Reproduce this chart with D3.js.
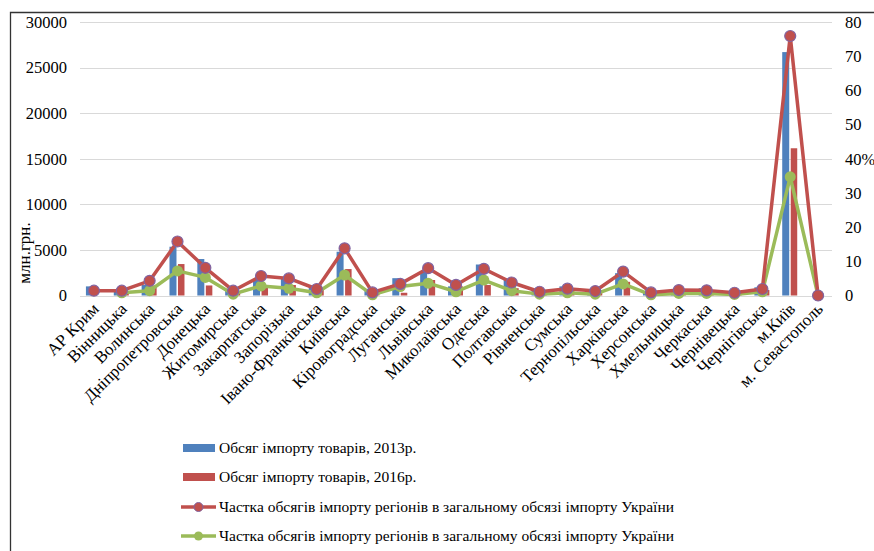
<!DOCTYPE html>
<html>
<head>
<meta charset="utf-8">
<script src="https://cdn.jsdelivr.net/npm/d3@7"></script>
<style>
  body { margin: 0; background: #fff; }
  svg { font-family: "Liberation Serif", "Times New Roman", serif; }
</style>
</head>
<body>
<svg width="874" height="551"></svg>
<script>
  const regions = ['АР Крим', 'Вінницька', 'Волинська', 'Дніпропетровська', 'Донецька', 'Житомирська',
    'Закарпатська', 'Запорізька', 'Івано-Франківська', 'Київська', 'Кіровоградська', 'Луганська',
    'Львівська', 'Миколаївська', 'Одеська', 'Полтавська', 'Рівненська', 'Сумська', 'Тернопільська',
    'Харківська', 'Херсонська', 'Хмельницька', 'Черкаська', 'Чернівецька', 'Чернігівська',
    'м.Київ', 'м. Севастополь'];

  const import2013 = [1000, 700, 1150, 5350, 4000, 750, 1700, 1900, 900, 4800, 500, 1900,
    2600, 1000, 3400, 1700, 700, 1000, 500, 2450, 500, 700, 800, 300, 900, 26700, null];
  const import2016 = [null, 500, 1100, 3450, 1100, 450, 1050, 1150, 700, 2900, 300, 300,
    1700, 1000, 1150, 800, 400, 600, 300, 1500, 300, 400, 500, 150, 600, 16150, null];
  const shareRed = [1.4, 1.4, 4.3, 15.8, 8.1, 1.4, 5.7, 5.0, 1.9, 13.8, 0.9, 3.4,
    8.0, 3.1, 7.8, 3.8, 1.1, 2.0, 1.3, 7.0, 0.9, 1.6, 1.5, 0.8, 1.9, 75.9, 0];
  const shareGreen = [null, 0.8, 1.4, 7.2, 5.3, 0.4, 2.8, 2.1, 0.8, 6.0, 0.2, 2.6,
    3.6, 1.1, 4.5, 1.4, 0.4, 0.8, 0.4, 3.4, 0.2, 0.6, 0.6, 0.3, 1.1, 34.7, 0];

  const leftTicks = [0, 5000, 10000, 15000, 20000, 25000, 30000];
  const rightTicks = [0, 10, 20, 30, 40, 50, 60, 70, 80];

  const legendLabels = ['Обсяг імпорту товарів, 2013р.', 'Обсяг імпорту товарів, 2016р.',
    'Частка обсягів імпорту регіонів в загальному обсязі імпорту України',
    'Частка обсягів імпорту регіонів в загальному обсязі імпорту України'];

  const blue = '#4f81bd', red = '#c0504d', green = '#9bbb59';

  const svg = d3.select('svg');

  // frame
  svg.append('path')
    .attr('d', 'M10.5,551 L10.5,12.5 L874,12.5')
    .attr('fill', 'none')
    .attr('stroke', '#333')
    .attr('stroke-width', 1.3);

  const x = d3.scaleBand().domain(regions).range([80, 832]);
  const yL = d3.scaleLinear().domain([0, 30000]).range([295.5, 22]);
  const yR = d3.scaleLinear().domain([0, 80]).range([295.5, 22]);
  const cx = d => x(d) + x.bandwidth() / 2;

  // gridlines
  svg.append('g').selectAll('line')
    .data(leftTicks)
    .join('line')
      .attr('x1', 80).attr('x2', 832)
      .attr('y1', d => Math.round(yL(d)) + 0.5)
      .attr('y2', d => Math.round(yL(d)) + 0.5)
      .attr('stroke', '#d9d9d9')
      .attr('stroke-width', 1.2);

  // left axis labels
  svg.append('g').selectAll('text')
    .data(leftTicks)
    .join('text')
      .attr('x', 67)
      .attr('y', d => yL(d))
      .attr('dy', '0.35em')
      .attr('text-anchor', 'end')
      .attr('font-size', '16.5px')
      .text(d => d);

  svg.append('text')
    .attr('transform', 'translate(30,253) rotate(-90)')
    .attr('text-anchor', 'middle')
    .attr('font-size', '17px')
    .text('млн.грн.');

  // right axis labels
  svg.append('g').selectAll('text')
    .data(rightTicks)
    .join('text')
      .attr('x', 845)
      .attr('y', d => yR(d))
      .attr('dy', '0.35em')
      .attr('font-size', '16.5px')
      .text(d => d === 40 ? '40%' : d);

  // bars
  svg.append('g').selectAll('rect')
    .data(regions.map((r, i) => ({ r, v: import2013[i] })).filter(d => d.v != null))
    .join('rect')
      .attr('x', d => cx(d.r) - 8)
      .attr('width', 7)
      .attr('y', d => yL(d.v))
      .attr('height', d => yL(0) - yL(d.v))
      .attr('fill', blue);

  svg.append('g').selectAll('rect')
    .data(regions.map((r, i) => ({ r, v: import2016[i] })).filter(d => d.v != null))
    .join('rect')
      .attr('x', d => cx(d.r) + 0.5)
      .attr('width', 6.5)
      .attr('y', d => yL(d.v))
      .attr('height', d => yL(0) - yL(d.v))
      .attr('fill', red);

  // lines
  const drawLine = (values, color, width, r, outline) => {
    const pts = regions.map((reg, i) => ({ reg, v: values[i] }));
    const line = d3.line()
      .defined(d => d.v != null)
      .x(d => cx(d.reg))
      .y(d => yR(d.v));
    svg.append('path')
      .datum(pts)
      .attr('d', line)
      .attr('fill', 'none')
      .attr('stroke', color)
      .attr('stroke-width', width)
      .attr('stroke-linejoin', 'round');
    svg.append('g').selectAll('circle')
      .data(pts.filter(d => d.v != null))
      .join('circle')
        .attr('cx', d => cx(d.reg))
        .attr('cy', d => yR(d.v))
        .attr('r', r)
        .attr('fill', color)
        .attr('stroke', outline || 'none')
        .attr('stroke-width', 1.2);
  };
  drawLine(shareGreen, green, 3.5, 5.5, null);
  drawLine(shareRed, red, 3.5, 5.5, '#8064a2');

  // x labels
  svg.append('g').selectAll('text')
    .data(regions)
    .join('text')
      .attr('transform', d => `translate(${cx(d) + 6},310) rotate(-45)`)
      .attr('text-anchor', 'end')
      .attr('font-size', '17px')
      .text(d => d);

  // legend
  const lg = svg.append('g');
  const rowY = [448, 477, 507, 536];
  legendLabels.forEach((t, i) => {
    if (i < 2) {
      lg.append('rect')
        .attr('x', 183).attr('y', rowY[i] - 4)
        .attr('width', 32).attr('height', 8)
        .attr('fill', i === 0 ? blue : red);
    } else {
      const c = i === 2 ? red : green;
      lg.append('line')
        .attr('x1', 181).attr('x2', 216)
        .attr('y1', rowY[i]).attr('y2', rowY[i])
        .attr('stroke', c).attr('stroke-width', 3.5);
      lg.append('circle')
        .attr('cx', 198.5).attr('cy', rowY[i]).attr('r', 4.5)
        .attr('fill', c)
        .attr('stroke', i === 2 ? '#8064a2' : 'none');
    }
    lg.append('text')
      .attr('x', 219).attr('y', rowY[i])
      .attr('dy', '0.35em')
      .attr('font-size', '15.5px')
      .text(t);
  });
</script>
</body>
</html>
